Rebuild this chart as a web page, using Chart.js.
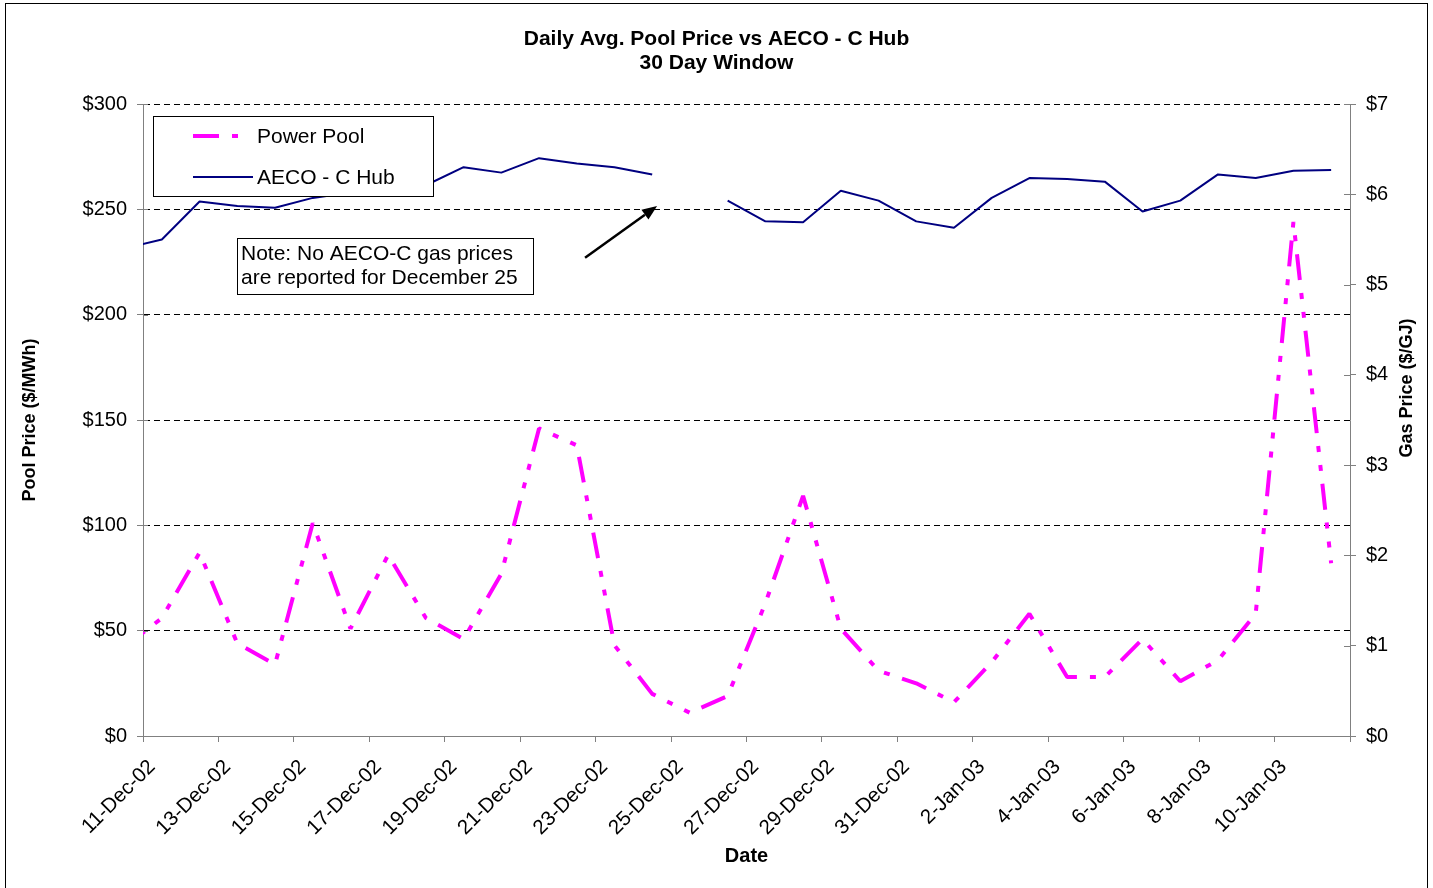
<!DOCTYPE html>
<html><head><meta charset="utf-8">
<script src="https://cdn.jsdelivr.net/npm/chart.js@4.4.1/dist/chart.umd.min.js"></script>
<style>
html,body{margin:0;padding:0;background:#fff;}
#wrap{position:relative;width:1433px;height:888px;overflow:hidden;}
#frame{position:absolute;left:5px;top:3px;width:1421px;height:892px;border:1px solid #000;pointer-events:none;}
canvas{display:block;}
</style></head><body>
<div id="wrap"><canvas id="c" width="1433" height="888"></canvas><div id="frame"></div></div>
<script>
// ---- data ----
const dates = ['10-Dec-02','11-Dec-02','12-Dec-02','13-Dec-02','14-Dec-02','15-Dec-02','16-Dec-02','17-Dec-02',
  '18-Dec-02','19-Dec-02','20-Dec-02','21-Dec-02','22-Dec-02','23-Dec-02','24-Dec-02','25-Dec-02','26-Dec-02',
  '27-Dec-02','28-Dec-02','29-Dec-02','30-Dec-02','31-Dec-02','1-Jan-03','2-Jan-03','3-Jan-03','4-Jan-03',
  '5-Jan-03','6-Jan-03','7-Jan-03','8-Jan-03','9-Jan-03','10-Jan-03','11-Jan-03'];
const poolPrice = [42,56,87,44,34,101,51,86,56,46,77,146,138,43,20,11,19,63,114,51,31,25,16,35,58,28,28,46,26,36,58,244,82];
const aecoPrice = [5.40,5.50,5.92,5.87,5.85,5.96,6.02,6.08,6.10,6.30,6.24,6.40,6.34,6.30,6.22,null,5.93,5.70,5.69,
  6.04,5.93,5.70,5.63,5.96,6.18,6.17,6.14,5.81,5.93,6.22,6.18,6.26,6.27];
const tickLabels = ['11-Dec-02','13-Dec-02','15-Dec-02','17-Dec-02','19-Dec-02','21-Dec-02','23-Dec-02','25-Dec-02',
  '27-Dec-02','29-Dec-02','31-Dec-02','2-Jan-03','4-Jan-03','6-Jan-03','8-Jan-03','10-Jan-03'];
const seriesNames = ['Power Pool','AECO - C Hub'];
const titleLines = ['Daily Avg. Pool Price vs AECO - C Hub','30 Day Window'];
const noteLines = ['Note: No AECO-C gas prices','are reported for December 25'];

// first visible day (11-Dec-02) starts at x=0; each day is centred in its slot
const firstDayIndex = 1;
const toPoints = arr => arr.map((v,i)=>({x: i - firstDayIndex + 0.5, y: v}));

const FONT = '"Liberation Sans", Arial, Helvetica, sans-serif';
const POOL_DASH = [26,13,6,13,6,13];
const GRAY = '#808080';

const overlay = {
  id:'overlay',
  afterDatasetsDraw(chart){
    const {ctx, chartArea:a, scales} = chart;
    const ds = chart.data.datasets;
    ctx.save();
    // inner halves of the crossing tick marks on both value axes
    ctx.strokeStyle=GRAY; ctx.lineWidth=1;
    scales.y.ticks.forEach(t=>{const p=Math.round(scales.y.getPixelForValue(t.value))+0.5;
      ctx.beginPath(); ctx.moveTo(a.left,p); ctx.lineTo(a.left+5,p); ctx.stroke();});
    scales.y2.ticks.forEach(t=>{const p=Math.round(scales.y2.getPixelForValue(t.value))+0.5;
      ctx.beginPath(); ctx.moveTo(a.right-6,p); ctx.lineTo(a.right,p); ctx.stroke();});
    // legend
    const lx=a.left+10, ly=a.top+12, lw=280, lh=80;
    ctx.fillStyle='#fff'; ctx.fillRect(lx,ly,lw,lh);
    ctx.strokeStyle='#000'; ctx.lineWidth=1; ctx.strokeRect(lx+0.5,ly+0.5,lw,lh);
    ctx.font='21px '+FONT; ctx.textBaseline='middle'; ctx.textAlign='left';
    const rows=[ly+20, ly+61];
    ds.forEach((d,i)=>{
      ctx.save();
      ctx.strokeStyle=d.borderColor; ctx.lineWidth=d.borderWidth;
      ctx.setLineDash(d.borderDash||[]); ctx.lineCap='butt';
      ctx.beginPath(); ctx.moveTo(lx+40, rows[i]); ctx.lineTo(lx+(i===0?96:100), rows[i]); ctx.stroke();
      ctx.restore();
      ctx.fillStyle='#000'; ctx.fillText(d.label, lx+104, rows[i]+1);
    });
    // note box
    const nx=a.left+94, ny=a.top+134, nw=296, nh=56;
    ctx.fillStyle='#fff'; ctx.fillRect(nx,ny,nw,nh);
    ctx.strokeStyle='#000'; ctx.lineWidth=1; ctx.strokeRect(nx+0.5,ny+0.5,nw,nh);
    ctx.fillStyle='#000'; ctx.font='21px '+FONT;
    noteLines.forEach((t,i)=>ctx.fillText(t, nx+4, ny+16+i*24));
    // arrow
    const x1=scales.x.getPixelForValue(11.72), y1=scales.y.getPixelForValue(227);
    const x2=scales.x.getPixelForValue(13.63), y2=scales.y.getPixelForValue(251.6);
    const ang=Math.atan2(y2-y1,x2-x1), hl=15, hw=6;
    const bx=x2-hl*Math.cos(ang), by=y2-hl*Math.sin(ang);
    ctx.strokeStyle='#000'; ctx.lineWidth=2.5;
    ctx.beginPath(); ctx.moveTo(x1,y1); ctx.lineTo(bx,by); ctx.stroke();
    ctx.fillStyle='#000'; ctx.beginPath();
    ctx.moveTo(x2,y2);
    ctx.lineTo(bx+hw*Math.sin(ang), by-hw*Math.cos(ang));
    ctx.lineTo(bx-hw*Math.sin(ang), by+hw*Math.cos(ang));
    ctx.closePath(); ctx.fill();
    ctx.restore();
  },
  afterDraw(chart){
    const {ctx, chartArea:a} = chart;
    ctx.save();
    ctx.fillStyle='#000'; ctx.font='bold 18px '+FONT; ctx.textAlign='center'; ctx.textBaseline='middle';
    ctx.translate(1407, (a.top+a.bottom)/2-32); ctx.rotate(-Math.PI/2);
    ctx.fillText('Gas Price ($/GJ)',0,0);
    ctx.restore();
  }
};

new Chart(document.getElementById('c'),{
  type:'line',
  data:{datasets:[
    {label:seriesNames[0], data:toPoints(poolPrice), yAxisID:'y', borderColor:'#FF00FF', backgroundColor:'#FF00FF',
     borderWidth:4, borderDash:POOL_DASH, borderCapStyle:'butt', borderJoinStyle:'bevel', pointRadius:0, tension:0, clip:0, order:2},
    {label:seriesNames[1], data:toPoints(aecoPrice), yAxisID:'y2', borderColor:'#000080', backgroundColor:'#000080',
     borderWidth:2, borderJoinStyle:'bevel', pointRadius:0, tension:0, spanGaps:false, clip:0, order:1}
  ]},
  options:{
    responsive:false, animation:false, devicePixelRatio:1,
    layout:{padding:{left:0,right:0,top:0,bottom:0}},
    plugins:{
      legend:{display:false}, tooltip:{enabled:false},
      title:{display:true, text:titleLines, color:'#000', font:{family:FONT,size:21,weight:'bold',lineHeight:'24px'},
        padding:{top:27,bottom:29}}
    },
    scales:{
      x:{type:'linear', min:0, max:32, position:'bottom',
        afterFit:s=>{s.height=152;},
        grid:{drawOnChartArea:false, drawTicks:true, tickLength:6, color:GRAY, tickColor:GRAY, lineWidth:1},
        border:{display:true,color:GRAY,width:1},
        ticks:{stepSize:2, autoSkip:false, maxRotation:45, minRotation:45, color:'#000', padding:13, labelOffset:9,
          font:{family:FONT,size:20.5},
          callback:v=>{const i=Math.round(v)/2; return Number.isInteger(i)&&i<tickLabels.length?tickLabels[i]:'';}},
        title:{display:true,text:'Date',color:'#000',font:{family:FONT,size:20,weight:'bold'},padding:{top:0,bottom:20}}
      },
      y:{type:'linear', position:'left', min:0, max:300,
        afterFit:s=>{s.width=143;},
        grid:{color:c=>c.tick&&c.tick.value===0?'rgba(0,0,0,0)':'#000', tickColor:GRAY, tickLength:6, lineWidth:1},
        border:{display:true,color:GRAY,width:1,dash:[6,4]},
        ticks:{stepSize:50, color:'#000', padding:10, font:{family:FONT,size:20}, callback:v=>'$'+v},
        title:{display:true,text:'Pool Price ($/MWh)',color:'#000',font:{family:FONT,size:18,weight:'bold'},padding:{top:19,bottom:0}}
      },
      y2:{type:'linear', position:'right', min:0, max:7,
        afterFit:s=>{s.width=83;},
        grid:{drawOnChartArea:false, tickColor:GRAY, tickLength:6, color:GRAY},
        border:{display:true,color:GRAY,width:1},
        ticks:{stepSize:1, color:'#000', padding:10, font:{family:FONT,size:20}, callback:v=>'$'+v}
      }
    }
  },
  plugins:[overlay]
});
</script>
</body></html>
